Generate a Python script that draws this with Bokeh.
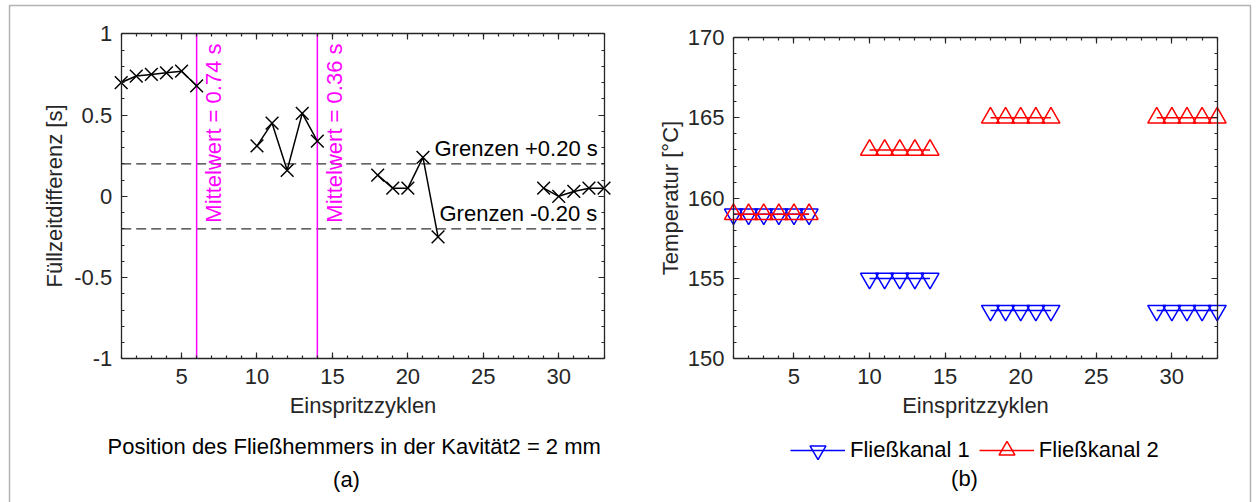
import numpy as np
from bokeh.plotting import figure
from bokeh.models import (LinearAxis, SingleIntervalTicker, Label, Legend, LegendItem,
                          Range1d, CustomJSTickFormatter, BoxAnnotation)
from bokeh.embed import file_html
from bokeh.resources import INLINE

FONT = "Liberation Sans"
AX = "#262626"
FS = "22px"

# ---------------- data: panel (a) ----------------
cycles = [1, 2, 3, 4, 5, 6,
          10, 11, 12, 13, 14,
          18, 19, 20, 21, 22,
          29, 30, 31, 32, 33]
fill_diff = [0.70, 0.74, 0.75, 0.76, 0.77, 0.68,
             0.31, 0.45, 0.16, 0.51, 0.34,
             0.13, 0.05, 0.05, 0.24, -0.25,
             0.05, 0.00, 0.03, 0.05, 0.05]
mean_x = [6, 14]
mean_labels = ["Mittelwert = 0.74 s", "Mittelwert = 0.36 s"]
limit_values = [0.20, -0.20]
limit_labels = ["Grenzen +0.20 s", "Grenzen -0.20 s"]
caption_a = "Position des Fließhemmers in der Kavität2 = 2 mm"
x_title = "Einspritzzyklen"
y_title_a = "Füllzeitdifferenz [s]"

# ---------------- data: panel (b) ----------------
temp_kanal1 = [159, 159, 159, 159, 159, 159,
               155, 155, 155, 155, 155,
               153, 153, 153, 153, 153,
               153, 153, 153, 153, 153]
temp_kanal2 = [159, 159, 159, 159, 159, 159,
               163, 163, 163, 163, 163,
               165, 165, 165, 165, 165,
               165, 165, 165, 165, 165]
series_names = ["Fließkanal 1", "Fließkanal 2"]
y_title_b = "Temperatur [°C]"

XLIM = (1, 33)
YLIM_A = (-1, 1)
YLIM_B = (150, 170)

# ---------------- layout (canvas pixels) ----------------
W, H = 1257, 502
BOX_A = (120.7, 603.5, 33.3, 358.3)   # left, right, top, bottom of axes box (a)
BOX_B = (733.0, 1216.7, 37.0, 358.3)  # axes box (b)
BASE = 8                              # text baseline correction (px)


def full_range(lo, hi, p_lo, p_hi, total):
    """range over the whole canvas so that lo sits at pixel p_lo and hi at p_hi"""
    k = (hi - lo) / (p_hi - p_lo)
    return Range1d(lo - p_lo * k, hi + (total - p_hi) * k)


xa = full_range(XLIM[0], XLIM[1], BOX_A[0], BOX_A[1], W)
ya = full_range(YLIM_A[0], YLIM_A[1], H - BOX_A[3], H - BOX_A[2], H)
xb = full_range(XLIM[0], XLIM[1], BOX_B[0], BOX_B[1], W)
yb = full_range(YLIM_B[0], YLIM_B[1], H - BOX_B[3], H - BOX_B[2], H)


def to_a(px, py):
    kx = (XLIM[1] - XLIM[0]) / (BOX_A[1] - BOX_A[0])
    ky = (YLIM_A[1] - YLIM_A[0]) / (BOX_A[3] - BOX_A[2])
    return XLIM[0] + (px - BOX_A[0]) * kx, YLIM_A[0] + (BOX_A[3] - py) * ky


def to_b(px, py):
    kx = (XLIM[1] - XLIM[0]) / (BOX_B[1] - BOX_B[0])
    ky = (YLIM_B[1] - YLIM_B[0]) / (BOX_B[3] - BOX_B[2])
    return XLIM[0] + (px - BOX_B[0]) * kx, YLIM_B[0] + (BOX_B[3] - py) * ky


def with_gaps(xs, ys):
    """insert NaN where the cycle sequence jumps so each block is its own polyline"""
    X, Y = [], []
    for i, (x, y) in enumerate(zip(xs, ys)):
        if i > 0 and x - xs[i - 1] > 1:
            X.append(np.nan)
            Y.append(np.nan)
        X.append(x)
        Y.append(y)
    return X, Y


p = figure(width=W, height=H, x_range=xa, y_range=ya,
           x_axis_type=None, y_axis_type=None,
           output_backend="svg", toolbar_location=None,
           min_border=0, min_border_left=0, min_border_right=0,
           min_border_top=0, min_border_bottom=0)
p.extra_x_ranges = {"xb": xb}
p.extra_y_ranges = {"yb": yb}
p.title.visible = False
p.outline_line_color = None
p.background_fill_color = "white"
p.border_fill_color = "white"


def add_axis(side, interval, fixed, bounds, labels=True, label=None,
             label_standoff=10, title_standoff=2, xr="default", yr="default"):
    ax = LinearAxis(fixed_location=fixed, bounds=bounds, x_range_name=xr, y_range_name=yr)
    ax.ticker = SingleIntervalTicker(interval=interval, num_minor_ticks=5)
    ax.axis_line_color = AX
    ax.axis_line_width = 1.3
    ax.major_tick_line_color = AX
    ax.minor_tick_line_color = AX
    ax.major_tick_line_width = 1.2
    ax.minor_tick_line_width = 1.2
    ax.major_tick_in = 6
    ax.major_tick_out = 0
    ax.minor_tick_in = 3
    ax.minor_tick_out = 0
    ax.major_label_text_font = FONT
    ax.major_label_text_color = AX
    ax.major_label_text_font_size = FS
    ax.axis_label_text_font = FONT
    ax.axis_label_text_font_size = FS
    ax.axis_label_text_font_style = "normal"
    ax.axis_label_text_color = AX
    if labels:
        ax.formatter = CustomJSTickFormatter(code="return Number(tick.toFixed(3)).toString();")
        ax.major_label_standoff = label_standoff
    else:
        ax.formatter = CustomJSTickFormatter(code="return '';")
        ax.major_label_standoff = 0
    if label:
        ax.axis_label = label
        ax.axis_label_standoff = title_standoff
    p.add_layout(ax, side)
    return ax


# ---- axes of panel (a)
add_axis("below", 5, YLIM_A[0], XLIM, label=x_title, label_standoff=10, title_standoff=6)
add_axis("left", 0.5, XLIM[0], YLIM_A, label=y_title_a, label_standoff=9, title_standoff=5)
add_axis("above", 5, YLIM_A[1], XLIM, labels=False)
add_axis("right", 0.5, XLIM[1], YLIM_A, labels=False)
# ---- axes of panel (b)
add_axis("below", 5, YLIM_B[0], XLIM, label=x_title, label_standoff=10, title_standoff=6,
         xr="xb", yr="yb")
add_axis("left", 5, XLIM[0], YLIM_B, label=y_title_b, label_standoff=9, title_standoff=2,
         xr="xb", yr="yb")
add_axis("above", 5, YLIM_B[1], XLIM, labels=False, xr="xb", yr="yb")
add_axis("right", 5, XLIM[1], YLIM_B, labels=False, xr="xb", yr="yb")


def text_label(px, py, txt, conv, align="left", color="black", **kw):
    x, y = conv(px, py - BASE)
    p.add_layout(Label(x=x, y=y, text=txt, text_align=align, text_baseline="alphabetic",
                       text_font=FONT, text_font_size=FS, text_color=color, **kw))


# ================= panel (a) content =================
n = len(limit_values)
p.segment(x0=[XLIM[0]] * n, x1=[XLIM[1]] * n, y0=limit_values, y1=limit_values,
          line_color="#333333", line_width=1.3, line_dash="10 5")
m = len(mean_x)
p.segment(x0=mean_x, x1=mean_x, y0=[YLIM_A[0]] * m, y1=[YLIM_A[1]] * m,
          line_color="#FF00FF", line_width=1.5)
for xm, txt in zip(mean_x, mean_labels):
    p.add_layout(Label(x=xm, y=to_a(0, 43)[1], text=txt, angle=90, angle_units="deg",
                       x_offset=25 - BASE, text_align="right", text_baseline="alphabetic",
                       text_font=FONT, text_font_size=FS, text_color="#FF00FF"))

lx, ly = with_gaps(cycles, fill_diff)
p.line(lx, ly, line_color="black", line_width=1.5)
p.scatter(cycles, fill_diff, marker="x", size=18, line_color="black", line_width=1.5)

text_label(434, 156, limit_labels[0], to_a)
text_label(439, 220.7, limit_labels[1], to_a)
text_label(107, 454, caption_a, to_a)
text_label(346, 487, "(a)", to_a, align="center")

# ================= panel (b) content =================
bx1, by1 = with_gaps(cycles, temp_kanal1)
bx2, by2 = with_gaps(cycles, temp_kanal2)
l1 = p.line(bx1, by1, line_color="#0000FF", line_width=1.5, x_range_name="xb", y_range_name="yb")
s1 = p.scatter(cycles, temp_kanal1, marker="inverted_triangle", size=18,
               line_color="#0000FF", fill_color=None, line_width=1.5,
               x_range_name="xb", y_range_name="yb")
l2 = p.line(bx2, by2, line_color="#FF0000", line_width=1.5, x_range_name="xb", y_range_name="yb")
s2 = p.scatter(cycles, temp_kanal2, marker="triangle", size=18,
               line_color="#FF0000", fill_color=None, line_width=1.5,
               x_range_name="xb", y_range_name="yb")

legend = Legend(items=[LegendItem(label=series_names[0], renderers=[l1, s1]),
                       LegendItem(label=series_names[1], renderers=[l2, s2])],
                orientation="horizontal", location=(790, H - 470),
                border_line_color=None, background_fill_alpha=0,
                label_text_font=FONT, label_text_font_size=FS, label_text_color="black",
                glyph_width=55, glyph_height=40, label_standoff=5, spacing=9,
                margin=0, padding=0)
p.add_layout(legend)

bx, by = to_b(964, 486 - BASE)
p.add_layout(Label(x=bx, y=by, text="(b)", text_align="center", x_range_name="xb",
                   y_range_name="yb", text_baseline="alphabetic", text_font=FONT,
                   text_font_size=FS, text_color="black"))

# outer frame of the figure
p.add_layout(BoxAnnotation(left=9, right=1250, top=5, bottom=515,
                           left_units="canvas", right_units="canvas",
                           top_units="canvas", bottom_units="canvas",
                           fill_alpha=0, fill_color=None, line_color="black",
                           line_width=1.5))

with open("out.html", "w") as f:
    f.write(file_html(p, INLINE))
